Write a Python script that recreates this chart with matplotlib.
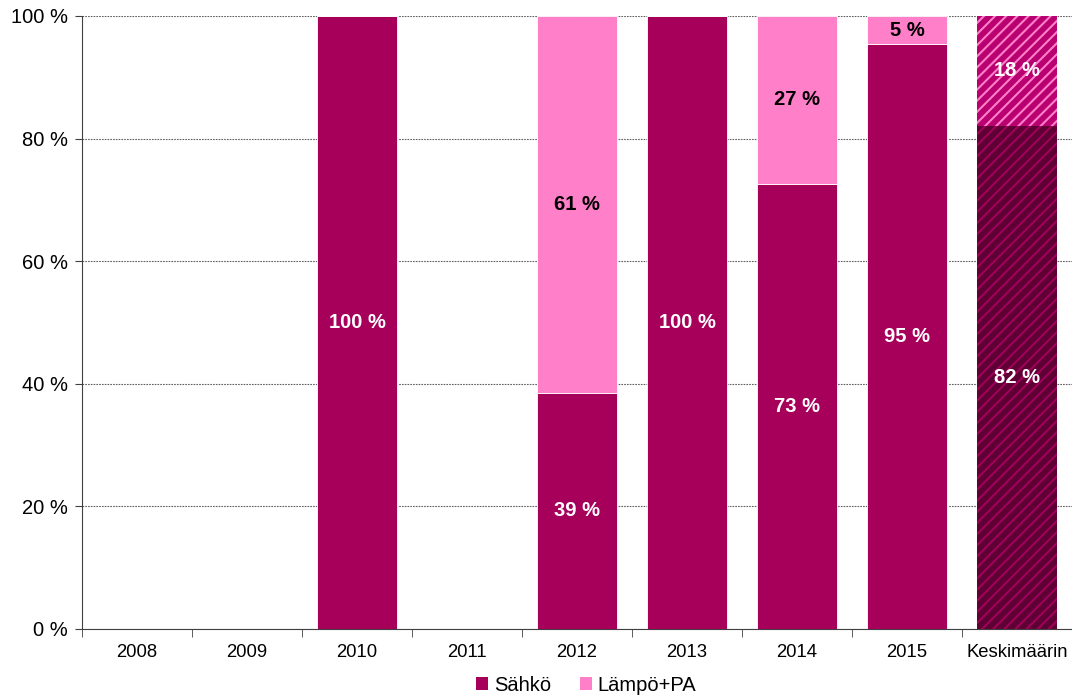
import matplotlib
matplotlib.use("Agg")
import matplotlib.pyplot as plt
import numpy as np
from matplotlib.patches import Patch

plt.rcParams['font.family'] = ['Liberation Sans', 'DejaVu Sans']
plt.rcParams['hatch.linewidth'] = 1.5

categories = ['2008', '2009', '2010', '2011', '2012', '2013', '2014', '2015', 'Keskimäärin']
sahko = [0, 0, 100, 0, 38.5, 100, 72.6, 95.4, 82.1]
lampo = [0, 0, 0, 0, 61.5, 0, 27.4, 4.6, 17.9]
sahko_labels = ['', '', '100 %', '', '39 %', '100 %', '73 %', '95 %', '82 %']
lampo_labels = ['', '', '', '', '61 %', '', '27 %', '5 %', '18 %']

c_sahko = '#A6005B'
c_lampo = '#FF7FC9'

fig = plt.figure(figsize=(10.72, 6.95), dpi=100)
ax = fig.add_axes([0.0765, 0.095, 0.9235, 0.882])

x = np.arange(len(categories))
w = 0.72
n = len(categories) - 1  # last one is the average, drawn hatched

ax.bar(x[:n], sahko[:n], w, color=c_sahko, edgecolor='white', linewidth=0.6, zorder=3)
ax.bar(x[:n], lampo[:n], w, bottom=sahko[:n], color=c_lampo, edgecolor='white', linewidth=0.6, zorder=3)

# average bar with diagonal hatch
ax.bar(x[n], sahko[n], w, color='#5E0034', edgecolor='#A0005A', hatch='///', linewidth=0, zorder=3)
ax.bar(x[n], lampo[n], w, bottom=sahko[n], color='#B80070', edgecolor='#FF7FC9', hatch='///', linewidth=0, zorder=3)

for i in range(len(categories)):
    if sahko_labels[i]:
        ax.text(x[i], sahko[i] / 2, sahko_labels[i], ha='center', va='center',
                color='white', fontsize=14.5, fontweight='bold', zorder=5)
    if lampo_labels[i]:
        col = 'white' if i == n else 'black'
        ax.text(x[i], sahko[i] + lampo[i] / 2, lampo_labels[i], ha='center', va='center',
                color=col, fontsize=14.5, fontweight='bold', zorder=5)

ax.set_xlim(-0.5, len(categories) - 0.5)
ax.set_ylim(0, 100)
ax.set_yticks(np.arange(0, 101, 20))
ax.set_yticklabels([f'{v} %' for v in range(0, 101, 20)], fontsize=14.5)
ax.set_xticks(x)
ax.set_xticklabels(categories, fontsize=13.3)
ax.tick_params(axis='x', length=0, pad=11)
ax.set_xticks(np.arange(-0.5, len(categories)), minor=True)
ax.tick_params(axis='x', which='minor', length=6, color='#404040', direction='out')
ax.tick_params(axis='y', length=5, color='#404040', pad=5)

ax.grid(axis='y', color='#606060', linestyle=(0, (1.5, 1)), linewidth=0.8, zorder=0)
ax.set_axisbelow(True)
for s in ['top', 'right']:
    ax.spines[s].set_visible(False)
ax.spines['left'].set_color('#404040')
ax.spines['bottom'].set_color('#404040')

handles = [Patch(facecolor=c_sahko, label='Sähkö'), Patch(facecolor=c_lampo, label='Lämpö+PA')]
fig.legend(handles=handles, loc='lower center', bbox_to_anchor=(0.547, -0.026), ncol=2,
           frameon=False, fontsize=14.5, handlelength=0.6, handleheight=0.6,
           handletextpad=0.3, columnspacing=1.4)

fig.savefig('out.png', dpi=100)
